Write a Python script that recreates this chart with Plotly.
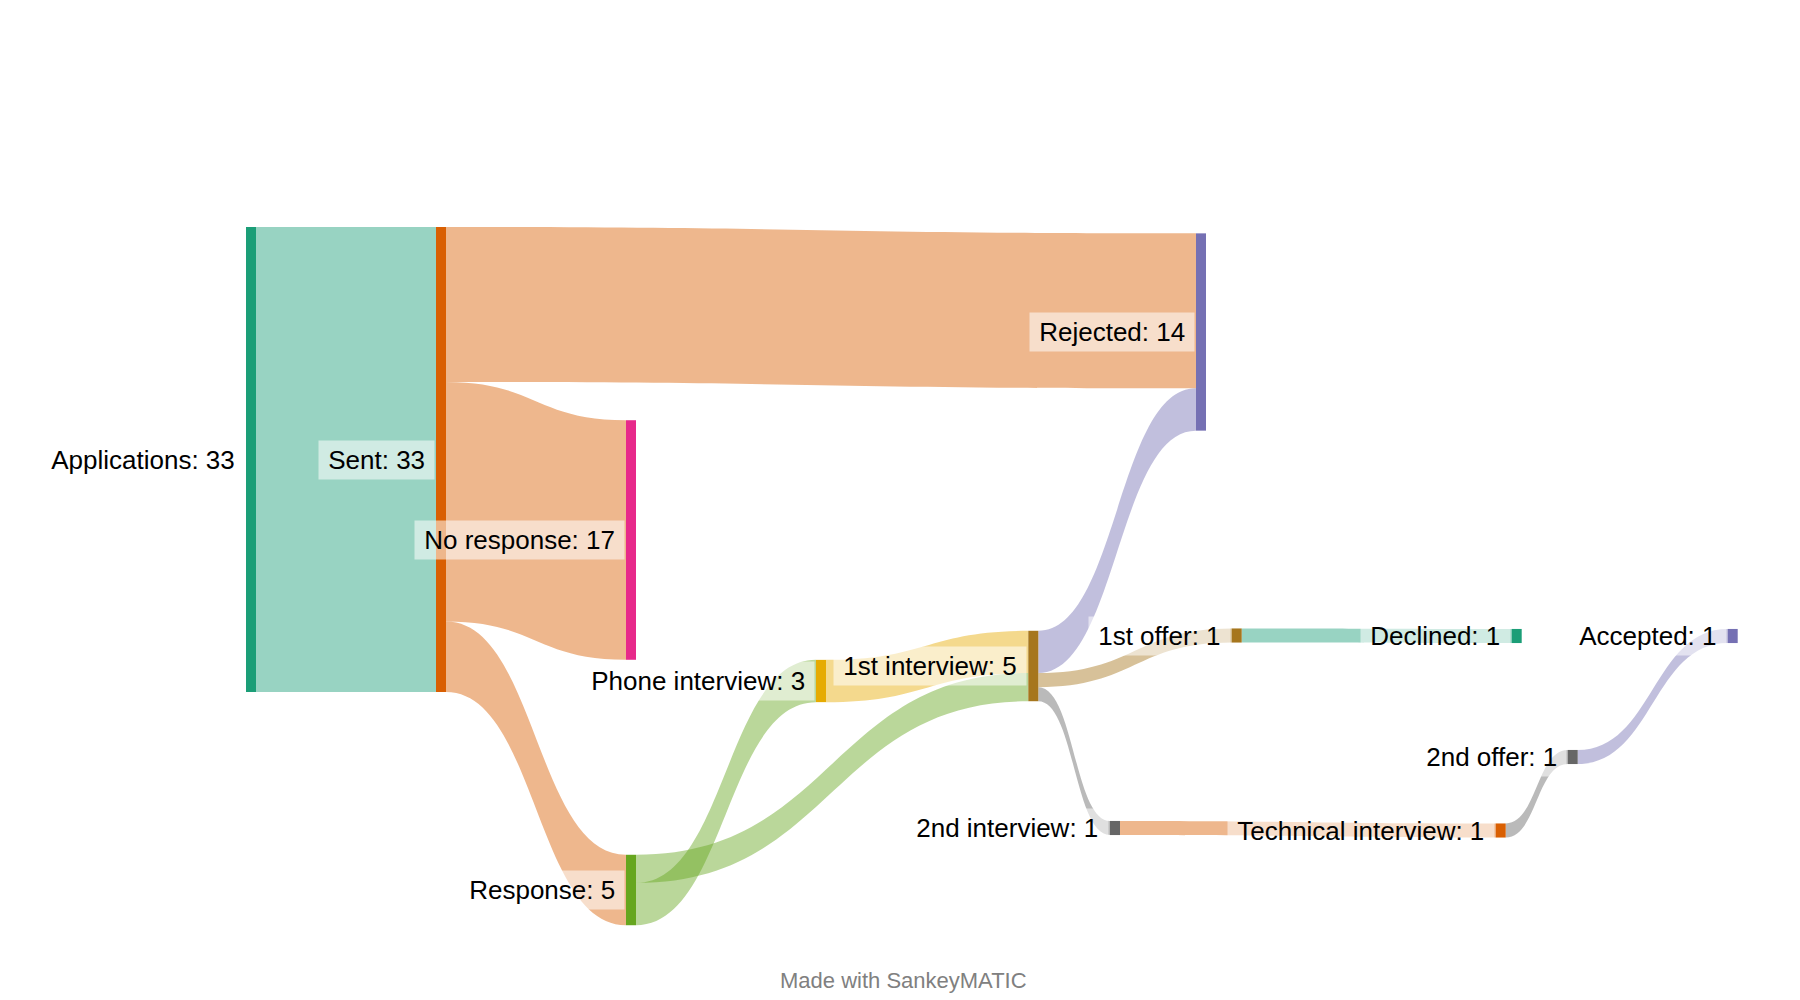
import plotly.graph_objects as go

# ---------------- data ----------------
nodes = ["Applications", "Sent", "Rejected", "No response", "Response",
         "Phone interview", "1st interview", "1st offer", "Declined",
         "2nd interview", "Technical interview", "2nd offer", "Accepted"]

link_source = ["Applications", "Sent", "Sent", "Sent", "Response", "Response",
               "Phone interview", "1st interview", "1st interview", "1st interview",
               "1st offer", "2nd interview", "Technical interview", "2nd offer"]
link_target = ["Sent", "Rejected", "No response", "Response", "Phone interview", "1st interview",
               "1st interview", "Rejected", "1st offer", "2nd interview",
               "Declined", "Technical interview", "2nd offer", "Accepted"]
link_value = [33, 11, 17, 5, 3, 2, 3, 3, 1, 1, 1, 1, 1, 1]

# ---------------- style / layout ----------------
node_colors = {
    "Applications": "#1b9e77", "Sent": "#d95f02", "Rejected": "#7570b3",
    "No response": "#e7298a", "Response": "#66a61e", "Phone interview": "#e6ab02",
    "1st interview": "#a6761d", "1st offer": "#a6761d", "Declined": "#1b9e77",
    "2nd interview": "#666666", "Technical interview": "#d95f02",
    "2nd offer": "#666666", "Accepted": "#7570b3",
}
# node whose colour each flow takes (outside-in colouring)
link_color_from = ["Applications", "Sent", "Sent", "Sent", "Response", "Response",
                   "Phone interview", "Rejected", "1st offer", "2nd interview",
                   "Declined", "Technical interview", "2nd offer", "Accepted"]

# node centres in pixels (figure is 1800 x 1000, no margins)
node_cx = [251, 441, 1201, 631, 631, 821, 1033.3, 1236.7, 1516.7, 1115, 1500.7, 1572.7, 1732.7]
node_cy = [459.5, 459.5, 332, 540, 890, 681, 666, 635.5, 636, 828, 830.5, 757, 636]

W, H = 1800, 1000
DOM_TOP, DOM_BOT = 100, 950          # sankey domain in px (top-down)
DOM_H = DOM_BOT - DOM_TOP
THICK = 10
PX_PER_UNIT = 465 / 33
# justify puts 4 sink nodes (total 33) in the last column -> ky = (H - 3 pad) / 33
PAD = (DOM_H - 33 * PX_PER_UNIT) / 3


def hex_rgba(h, a):
    h = h.lstrip("#")
    r, g, b = int(h[0:2], 16), int(h[2:4], 16), int(h[4:6], 16)
    return f"rgba({r},{g},{b},{a})"


idx = {n: i for i, n in enumerate(nodes)}
node_x = [cx / W for cx in node_cx]
node_y = [(cy - DOM_TOP) / DOM_H for cy in node_cy]

fig = go.Figure(go.Sankey(
    arrangement="fixed",
    domain=dict(x=[0, 1], y=[1 - DOM_BOT / H, 1 - DOM_TOP / H]),
    node=dict(
        label=nodes,
        x=node_x, y=node_y,
        color=[node_colors[n] for n in nodes],
        thickness=THICK,
        pad=PAD,
        line=dict(width=0),
    ),
    link=dict(
        source=[idx[s] for s in link_source],
        target=[idx[t] for t in link_target],
        value=link_value,
        color=[hex_rgba(node_colors[n], 0.45) for n in link_color_from],
    ),
    textfont=dict(color="rgba(0,0,0,0)", size=1),
))

# node totals for labels
totals = []
for n in nodes:
    tin = sum(v for t, v in zip(link_target, link_value) if t == n)
    tout = sum(v for s, v in zip(link_source, link_value) if s == n)
    totals.append(max(tin, tout))

FONT = "Liberation Sans, Arial, sans-serif"
annotations = []
for n, cx, cy, tot in zip(nodes, node_cx, node_cy, totals):
    annotations.append(dict(
        x=(cx - THICK / 2 - 1) / W, y=1 - cy / H,
        xref="paper", yref="paper", xanchor="right", yanchor="middle",
        text=f"\u2009{n}: {tot}\u2009", showarrow=False,
        font=dict(family=FONT, size=26, color="#000000"),
        bgcolor="rgba(255,255,255,0.55)", borderpad=4,
    ))
annotations.append(dict(
    x=903.5 / W, y=1 - 980 / H, xref="paper", yref="paper",
    xanchor="center", yanchor="middle", showarrow=False,
    text="Made with SankeyMATIC",
    font=dict(family=FONT, size=22, color="#808080"),
))

fig.update_layout(
    width=W, height=H,
    margin=dict(l=0, r=0, t=0, b=0),
    paper_bgcolor="white", plot_bgcolor="white",
    annotations=annotations,
    font=dict(family=FONT),
)

fig.write_html("out.html",
               config={"displayModeBar": False},
               post_script="document.body.style.margin='0px';document.body.style.overflow='hidden';")
